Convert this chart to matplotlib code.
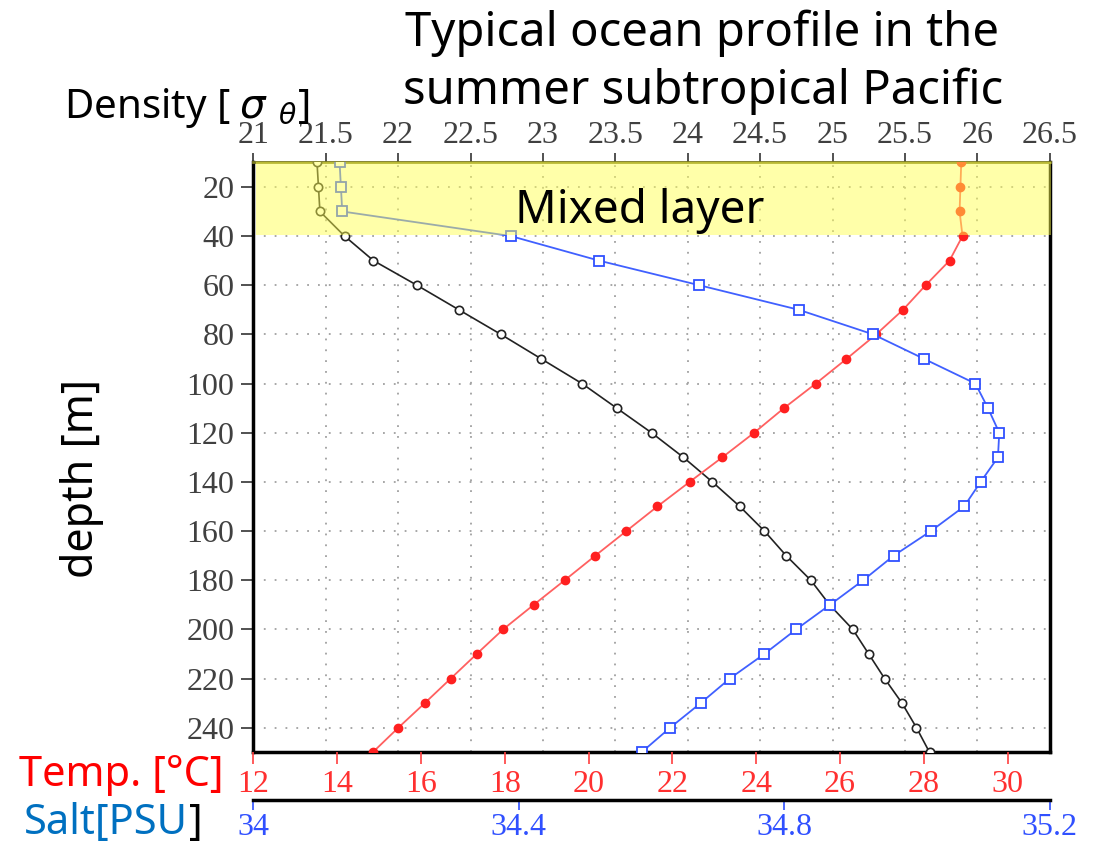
import numpy as np
import matplotlib
matplotlib.use("Agg")
import matplotlib.pyplot as plt

plt.rcParams['font.family'] = ['Noto Sans', 'DejaVu Sans']

# depth levels [m]
depth = [10, 20, 30, 40, 50, 60, 70, 80, 90, 100, 110, 120, 130,
         140, 150, 160, 170, 180, 190, 200, 210, 220, 230, 240, 250]

# potential density sigma-theta
density = [21.44, 21.45, 21.46, 21.63, 21.83, 22.13, 22.42, 22.71, 22.99, 23.27,
           23.51, 23.75, 23.97, 24.17, 24.36, 24.53, 24.68, 24.85, 24.98, 25.14,
           25.25, 25.36, 25.48, 25.58, 25.67]

# temperature [degC]
temp = [28.89, 28.87, 28.85, 28.92, 28.61, 28.04, 27.50, 26.86, 26.15, 25.42,
        24.66, 23.95, 23.19, 22.41, 21.64, 20.90, 20.16, 19.43, 18.69, 17.96,
        17.33, 16.71, 16.09, 15.46, 14.85]

# salinity [PSU]
salt = [34.130, 34.132, 34.134, 34.388, 34.521, 34.672, 34.822, 34.934, 35.011, 35.088,
        35.107, 35.124, 35.122, 35.096, 35.071, 35.021, 34.965, 34.919, 34.869, 34.818,
        34.770, 34.718, 34.674, 34.628, 34.585]

dens_ticks = [21, 21.5, 22, 22.5, 23, 23.5, 24, 24.5, 25, 25.5, 26, 26.5]
depth_ticks = [20, 40, 60, 80, 100, 120, 140, 160, 180, 200, 220, 240]
temp_ticks = [12, 14, 16, 18, 20, 22, 24, 26, 28, 30]
salt_ticks = [34, 34.4, 34.8, 35.2]
mixed_layer = (10, 39.5)

W, H = 1099, 842
fig = plt.figure(figsize=(W / 100, H / 100), dpi=100)
ax = fig.add_axes([253.3 / W, 1 - 752.3 / H, 796.4 / W, 590 / H])
ax_t = ax.twiny()
ax_s = ax.twiny()

tickfont = dict(family='Liberation Serif', size=23)

# density axis (top) and depth axis
ax.set_xlim(21, 26.5)
ax.set_ylim(250, 10)
ax.xaxis.set_ticks_position('top')
ax.xaxis.set_label_position('top')
ax.set_xticks(dens_ticks)
ax.set_xticklabels(['%g' % t for t in dens_ticks], fontdict=tickfont, color='#404040')
ax.set_yticks(depth_ticks)
ax.set_yticklabels([str(t) for t in depth_ticks], fontdict=tickfont, color='#404040')
ax.tick_params(axis='x', direction='out', length=6.5, width=1.2, pad=2, color='#333333')
ax.tick_params(axis='y', direction='out', length=8.5, width=1.2, pad=5, color='#333333')
ax.grid(True, color='#a0a0a0', linestyle=(0, (1, 5)), linewidth=1.3)
for s in ['left', 'bottom', 'right']:
    ax.spines[s].set_linewidth(2.5)
ax.spines['top'].set_linewidth(2)
ax.spines['top'].set_color('#7a7a20')

ax.plot(density, depth, color='#222222', lw=1.2, marker='o', ms=6,
        mfc='white', mec='#222222', mew=1.2, zorder=3)

# temperature axis (bottom)
ax_t.set_xlim(12, 31)
ax_t.xaxis.set_ticks_position('bottom')
ax_t.xaxis.set_label_position('bottom')
ax_t.set_xticks(temp_ticks)
ax_t.set_xticklabels([str(t) for t in temp_ticks], fontdict=tickfont, color='#ff3030')
ax_t.tick_params(axis='x', direction='out', length=8.5, width=1.2, pad=4, color='#ff4040')
for s in ax_t.spines.values():
    s.set_visible(False)
ax_t.plot(temp, depth, color='#ff6060', lw=1.3, marker='o', ms=6,
          mfc='#ff2020', mec='#ff2020', zorder=3)

# salinity axis (second bottom axis)
ax_s.set_xlim(34, 35.2)
ax_s.xaxis.set_ticks_position('bottom')
ax_s.xaxis.set_label_position('bottom')
for s in ax_s.spines.values():
    s.set_visible(False)
ax_s.spines['bottom'].set_visible(True)
ax_s.spines['bottom'].set_position(('outward', 34.5))
ax_s.spines['bottom'].set_linewidth(2.5)
ax_s.set_xticks(salt_ticks)
ax_s.set_xticklabels(['%g' % t for t in salt_ticks], fontdict=tickfont, color='#3050ff')
ax_s.tick_params(axis='x', direction='out', length=7, width=1.2, pad=2, color='#3050ff')
ax_s.plot(salt, depth, color='#4060ff', lw=1.3, marker='s', ms=7,
          mfc='white', mec='#3050ff', mew=1.3, zorder=3)

# mixed layer band drawn over the profiles
ax_s.axhspan(mixed_layer[0], mixed_layer[1], xmin=0.004, xmax=1.002,
             color=(1, 1, 0.3), alpha=0.48, lw=0, zorder=10, clip_on=False)

# texts
def fx(x):
    return x / W

def fy(y):
    return 1 - y / H

fig.text(fx(702), fy(46), 'Typical ocean profile in the', fontsize=34,
         ha='center', va='baseline', color='black')
fig.text(fx(703), fy(104), 'summer subtropical Pacific', fontsize=34,
         ha='center', va='baseline', color='black')
fig.text(fx(64), fy(118), r'Density [ $\sigma\ _{\theta}$]', fontsize=29,
         ha='left', va='baseline', color='black')
fig.text(fx(640), fy(223), 'Mixed layer', fontsize=33,
         ha='center', va='baseline', color='black', zorder=20)
fig.text(fx(82), fy(478), 'depth [m]', fontsize=31, rotation=90,
         ha='center', va='center', color='black')
fig.text(fx(19), fy(786), 'Temp. [°C]', fontsize=30,
         ha='left', va='baseline', color='#ff0000')
salt_lab = fig.text(fx(24), fy(834), 'Salt[PSU', fontsize=30,
                    ha='left', va='baseline', color='#0070c0')
fig.add_artist(plt.Annotation(']', xy=(1, 0), xycoords=salt_lab, xytext=(1, 0),
                              textcoords='offset points', fontsize=30,
                              ha='left', va='bottom', color='black'))

fig.savefig('out.png', dpi=100)
